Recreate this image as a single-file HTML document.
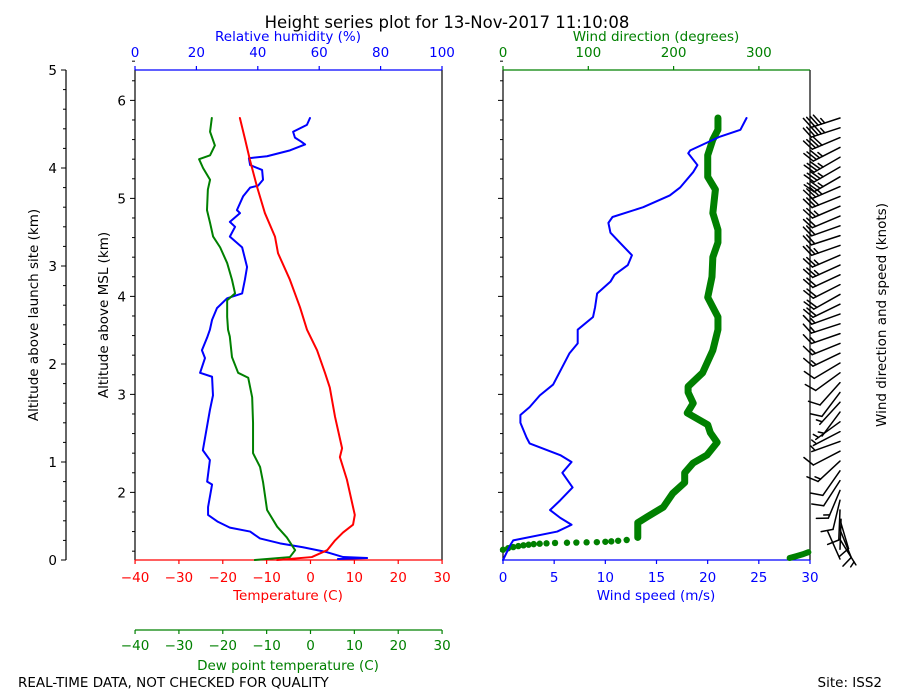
<!DOCTYPE html>
<html><head><meta charset="utf-8"><style>
html,body{margin:0;padding:0;background:#fff;}
svg{display:block;font-family:"DejaVu Sans","Liberation Sans",sans-serif;}
</style></head><body>
<svg id="chart" width="900" height="700" viewBox="0 0 900 700">
<text x="447" y="28" font-size="16.5" text-anchor="middle">Height series plot for 13-Nov-2017 11:10:08</text>
<text x="18" y="687" font-size="13.5">REAL-TIME DATA, NOT CHECKED FOR QUALITY</text>
<text x="882" y="687" font-size="13.5" text-anchor="end">Site: ISS2</text>
<g id="g"></g>
</svg>
<script>
// ---- data (altitude above launch site, km) ----
const tempAlt=[4.51,4.29,4.08,3.81,3.54,3.30,3.13,2.86,2.58,2.35,2.14,1.91,1.76,1.46,1.14,1.05,0.82,0.68,0.46,0.36,0.28,0.20,0.10,0.03,0.0];
const tempC=[-16.1,-14.9,-13.8,-12.2,-10.4,-8.1,-7.4,-4.7,-2.4,-0.8,1.5,3.3,4.4,5.6,7.2,6.7,8.3,9.0,10.1,9.7,7.4,5.6,3.8,0.3,-7.6];
const dewAlt=[4.51,4.37,4.23,4.13,4.09,4.00,3.88,3.78,3.57,3.44,3.30,3.19,3.03,2.86,2.72,2.65,2.48,2.35,2.28,2.07,1.91,1.86,1.66,1.40,1.09,0.95,0.79,0.51,0.34,0.23,0.10,0.03,0.0];
const dewC=[-22.5,-22.9,-21.8,-22.9,-25.4,-24.5,-22.9,-23.4,-23.6,-22.9,-22.2,-20.6,-19.0,-17.9,-17.2,-19.0,-19.0,-18.8,-18.4,-17.9,-16.5,-14.2,-13.3,-13.1,-13.1,-11.5,-10.8,-9.9,-7.6,-5.4,-3.5,-4.7,-12.7];
const rhAlt=[4.51,4.44,4.37,4.31,4.27,4.24,4.18,4.12,4.10,4.03,3.98,3.88,3.82,3.80,3.71,3.57,3.54,3.45,3.40,3.30,3.19,2.99,2.86,2.72,2.67,2.57,2.45,2.35,2.27,2.14,2.06,1.91,1.87,1.68,1.53,1.12,1.02,0.80,0.77,0.54,0.46,0.39,0.33,0.29,0.22,0.17,0.13,0.08,0.03,0.02,0.01];
const rhPct=[57.0,56.0,51.5,52.1,54.1,55.4,50.5,43.0,37.1,37.5,41.4,41.7,40.1,37.5,35.2,33.2,34.2,30.9,32.6,30.9,34.9,36.5,35.8,34.9,30.0,26.7,25.1,24.4,23.5,21.8,22.8,21.2,25.1,25.4,24.4,22.1,24.4,23.5,25.1,23.8,23.8,27.0,30.9,37.5,40.7,47.2,54.7,62.5,67.8,75.6,66.1];
const spdAlt=[4.51,4.39,4.32,4.18,4.15,4.03,3.96,3.80,3.72,3.60,3.50,3.44,3.34,3.24,3.11,3.01,2.91,2.84,2.72,2.58,2.48,2.35,2.21,2.11,1.97,1.79,1.68,1.56,1.48,1.40,1.25,1.19,1.07,1.00,0.89,0.74,0.61,0.51,0.43,0.36,0.29,0.20,0.15,0.0];
const spdMs=[23.8,23.2,21.2,18.3,18.1,19.0,18.6,17.3,16.3,13.7,10.7,10.3,10.5,11.4,12.6,12.2,10.9,10.5,9.2,9.0,8.8,7.3,7.3,6.5,5.8,4.9,3.6,2.6,1.7,1.7,2.3,2.6,5.6,6.7,5.8,6.8,5.6,4.6,5.6,6.7,5.3,1.0,0.7,0.0];
const dirAlt=[4.51,4.39,4.29,4.13,3.91,3.78,3.54,3.37,3.24,3.09,2.89,2.68,2.48,2.35,2.14,1.91,1.77,1.71,1.60,1.50,1.38,1.30,1.20,1.07,0.99,0.89,0.79,0.68,0.54,0.44,0.38,0.23];
const dirDeg=[252,252,246,240,240,249,246,252,252,246,245,240,252,252,246,234,217,217,223,216,240,243,251,239,223,213,213,199,188,169,158,158];
const dotAlt=[0.204,0.196,0.190,0.186,0.182,0.180,0.178,0.176,0.174,0.170,0.166,0.162,0.156,0.150,0.142,0.132,0.120,0.105];
const dotDeg=[145,135,127,120,110,98,86,75,61,51,43,36,30,24,18,12,6,0];
const lowAlt=[0.02,0.04,0.06,0.08];
const lowDeg=[336,344,352,358];
const tempTicks=[-40,-30,-20,-10,0,10,20,30];
const rhTicks=[0,20,40,60,80,100];
const spdTicks=[0,5,10,15,20,25,30];
const dirTicks=[0,100,200,300];
const siteTicks=[0,1,2,3,4,5];
const mslTicks=[2,3,4,5,6];
const mslOffset=1.31;

// ---- scales ----
const yA=a=>560-a*98;
const yM=m=>yA(m-mslOffset);
const xT=t=>310.5+t*4.386;
const xR=r=>135+r*3.07;
const xS=s=>503+s*10.233;
const xD=d=>503+d*0.853;

const NS='http://www.w3.org/2000/svg';
const g=document.getElementById('g');
function mk(tag,attrs,parent){const e=document.createElementNS(NS,tag);for(const k in attrs)e.setAttribute(k,attrs[k]);(parent||g).appendChild(e);return e;}
function line(x1,y1,x2,y2,c,w){return mk('line',{x1,y1,x2,y2,stroke:c,'stroke-width':w||1});}
function txt(x,y,s,c,anchor,size){const t=mk('text',{x,y,fill:c||'#000','font-size':size||13.5,'text-anchor':anchor||'middle'});t.textContent=s;return t;}

// ---- left outer axis (launch site) ----
let e=line(66,70,66,560,'#000',1.2);


for(let v=0;v<=5.0001;v+=0.2){const maj=Math.abs(v-Math.round(v))<1e-6;line(maj?61:63,yA(v),66,yA(v),'#000',1);}
siteTicks.forEach(v=>{const t=txt(57,yA(v)+5,String(v),'#000','end');

});
e=txt(0,0,'Altitude above launch site (km)');e.setAttribute('transform','translate(38,315) rotate(-90)');



// ---- left panel ----
const L=mk('g',{});


line(135,70,135,560,'#000',1.2);line(442,70,442,560,'#000',1.2);
for(let m=1.4;m<=6.41;m+=0.2){const maj=Math.abs(m-Math.round(m))<1e-6;line(maj?130:132,yM(m),135,yM(m),'#000',1);}
mslTicks.forEach(m=>{const t=txt(126,yM(m)+5,String(m),'#000','end');

});
e=txt(0,0,'Altitude above MSL (km)');e.setAttribute('transform','translate(108,315) rotate(-90)');


// top RH axis
line(135,70,442,70,'#0000ff',1.2);
rhTicks.forEach(r=>{line(xR(r),66,xR(r),70,'#0000ff',1.2);const t=txt(xR(r),57,String(r),'#0000ff');

});
e=txt(288,41,'Relative humidity (%)','#0000ff');


// bottom temperature axis
line(135,560,442,560,'#ff0000',1.2);
tempTicks.forEach(t=>{line(xT(t),560,xT(t),564,'#ff0000',1.2);const s=txt(xT(t),582,String(t).replace('-','\u2212'),'#ff0000');

});
e=txt(288,600,'Temperature (C)','#ff0000');


// dew point axis
line(135,630,442,630,'#008000',1.2);
tempTicks.forEach(t=>{line(xT(t),630,xT(t),634,'#008000',1.2);const s=txt(xT(t),650,String(t).replace('-','\u2212'),'#008000');

});
e=txt(288,670,'Dew point temperature (C)','#008000');



function poly(xs,ys,c,w,name){const p=mk('polyline',{points:xs.map((x,i)=>x+','+ys[i]).join(' '),fill:'none',stroke:c,'stroke-width':w,'stroke-linejoin':'round','stroke-linecap':'round'});

return p;}
poly(rhPct.map(xR),rhAlt.map(yA),'#0000ff',2,'rh-line');
poly(dewC.map(xT),dewAlt.map(yA),'#008000',2,'dewpoint-line');
poly(tempC.map(xT),tempAlt.map(yA),'#ff0000',2,'temperature-line');

// ---- right panel ----
line(503,70,503,560,'#000',1.2);line(810,70,810,560,'#000',1.2);
for(let m=1.4;m<=6.41;m+=0.2){const maj=Math.abs(m-Math.round(m))<1e-6;line(maj?498:500,yM(m),503,yM(m),'#000',1);}
line(503,70,810,70,'#008000',1.2);
dirTicks.forEach(d=>{line(xD(d),66,xD(d),70,'#008000',1.2);const t=txt(xD(d),57,String(d),'#008000');

});
e=txt(656,41,'Wind direction (degrees)','#008000');


line(503,560,810,560,'#0000ff',1.2);
spdTicks.forEach(s=>{line(xS(s),560,xS(s),564,'#0000ff',1.2);const t=txt(xS(s),582,String(s),'#0000ff');

});
e=txt(656,600,'Wind speed (m/s)','#0000ff');



poly(dirDeg.map(xD),dirAlt.map(yA),'#008000',7,'wind-direction-line');
poly(lowDeg.map(xD),lowAlt.map(yA),'#008000',6,'wind-direction-surface-line');
dotDeg.forEach((d,i)=>{const c=mk('circle',{cx:xD(d),cy:yA(dotAlt[i]),r:3.2,fill:'#008000'});

});
poly(spdMs.map(xS),spdAlt.map(yA),'#0000ff',2,'wind-speed-line');

e=txt(0,0,'Wind direction and speed (knots)');e.setAttribute('transform','translate(886,315) rotate(-90)');



// ---- wind barbs (derived from speed/direction profiles) ----
function interp(alts,vals,a){
  for(let i=0;i<alts.length-1;i++){const a1=alts[i],a2=alts[i+1];
    if((a<=a1&&a>=a2)||(a>=a1&&a<=a2)){const f=a1===a2?0:(a-a1)/(a2-a1);return vals[i]+f*(vals[i+1]-vals[i]);}}
  return vals[vals.length-1];
}
const allDirAlt=dirAlt.concat(dotAlt).concat(lowAlt.slice().reverse());
const allDir=dirDeg.concat(dotDeg).concat(lowDeg.slice().reverse());
const B=mk('g',{stroke:'#000','stroke-width':1.5,fill:'none','stroke-linecap':'round'});


for(let a=4.51;a>0.0;a-=0.1){
  const s=interp(spdAlt,spdMs,a), d=interp(allDirAlt,allDir,a)*Math.PI/180;
  let kt=Math.round(s*1.944/5)*5;
  const bx=840,by=yA(a),Ls=30;
  const ux=Math.sin(d),uy=-Math.cos(d);
  const tx=bx+ux*Ls,ty=by+uy*Ls;
  const gb=mk('g',{},B);
  
  
  mk('line',{x1:bx,y1:by,x2:tx,y2:ty},gb);
  let px=-uy,py=ux; // perpendicular
  const bxv=px+0.45*ux,byv=py+0.45*uy,nb=Math.hypot(bxv,byv);
  const vx=bxv/nb,vy=byv/nb;
  let pos=0;const sp=3.5;
  let flags=Math.floor(kt/50);kt-=flags*50;
  let full=Math.floor(kt/10);kt-=full*10;
  let half=kt>=5?1:0;
  for(let i=0;i<flags;i++){const x0=tx-ux*pos,y0=ty-uy*pos,x1=tx-ux*(pos+5),y1=ty-uy*(pos+5);
    mk('polygon',{points:`${x0},${y0} ${x0+vx*12},${y0+vy*12} ${x1},${y1}`,fill:'#000'},gb);pos+=6;}
  for(let i=0;i<full;i++){const x0=tx-ux*pos,y0=ty-uy*pos;mk('line',{x1:x0,y1:y0,x2:x0+vx*12,y2:y0+vy*12},gb);pos+=sp;}
  if(half){if(pos===0)pos=sp;const x0=tx-ux*pos,y0=ty-uy*pos;mk('line',{x1:x0,y1:y0,x2:x0+vx*6,y2:y0+vy*6},gb);}
}
</script>
</body></html>
